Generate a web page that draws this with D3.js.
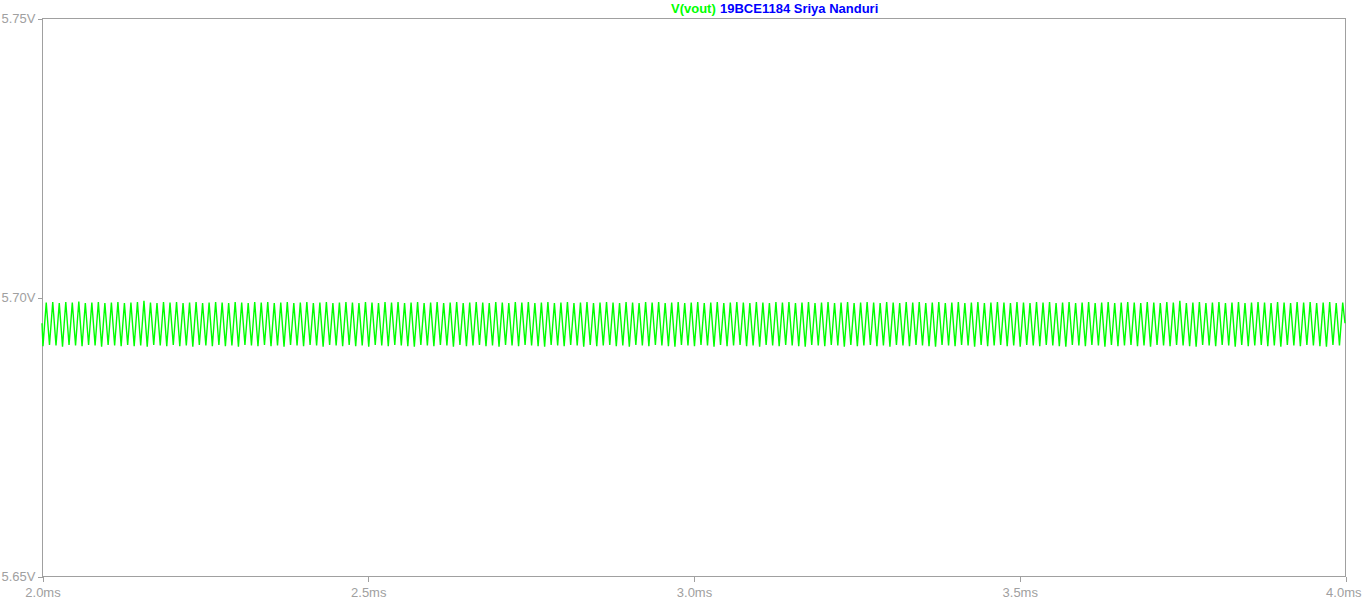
<!DOCTYPE html>
<html>
<head>
<meta charset="utf-8">
<script src="https://cdn.jsdelivr.net/npm/d3@7"></script>
<style>
  html, body { margin: 0; padding: 0; background: #ffffff; }
  svg { display: block; }
</style>
</head>
<body>
<svg id="chart" width="1362" height="602"></svg>
<script>
// ---- data ----
const xTicks = [2.0, 2.5, 3.0, 3.5, 4.0];          // ms
const xTickLabels = ["2.0ms", "2.5ms", "3.0ms", "3.5ms", "4.0ms"];
const yTicks = [5.65, 5.70, 5.75];                  // V
const yTickLabels = ["5.65V", "5.70V", "5.75V"];
const traceName = "V(vout)";
const titleText = "19BCE1184 Sriya Nanduri";

// ripple: 100 kHz (10 us period), first trough at 2.0015 ms
const startTime = 2.0, endTime = 4.0;
const startV = 5.6953, endV = 5.6953;
const firstTrough = 2.0015;   // ms
const period = 0.01;          // ms
const troughs = [
  5.6912,5.6914,5.6913,5.6911,5.6914,5.6913,5.6912,5.6914,5.6913,5.6911,5.6914,5.6913,5.6912,5.6914,5.6912,5.6913,5.6911,5.6914,5.6913,5.6912,
  5.6914,5.6912,5.6913,5.6911,5.6914,5.6913,5.6912,5.6914,5.6912,5.6913,5.6911,5.6914,5.6913,5.6912,5.6914,5.6912,5.6913,5.6911,5.6914,5.6913,
  5.6912,5.6914,5.6913,5.6911,5.6914,5.6913,5.6912,5.6914,5.6912,5.6913,5.6911,5.6914,5.6913,5.6912,5.6914,5.6913,5.6912,5.6911,5.6914,5.6913,
  5.6912,5.6914,5.6913,5.6911,5.6914,5.6912,5.6913,5.6914,5.6912,5.6913,5.6911,5.6914,5.6913,5.6912,5.6914,5.6913,5.6912,5.6911,5.6914,5.6913,
  5.6912,5.6914,5.6913,5.6911,5.6914,5.6912,5.6913,5.6914,5.6912,5.6913,5.6911,5.6914,5.6913,5.6912,5.6914,5.6913,5.6912,5.6911,5.6914,5.6913,
  5.6912,5.6914,5.6913,5.6911,5.6914,5.6912,5.6913,5.6914,5.6912,5.6913,5.6911,5.6914,5.6913,5.6912,5.6914,5.6913,5.6912,5.6911,5.6914,5.6913,
  5.6912,5.6914,5.6913,5.6911,5.6914,5.6912,5.6913,5.6914,5.6912,5.6913,5.6911,5.6914,5.6913,5.6912,5.6914,5.6913,5.6912,5.6911,5.6914,5.6913,
  5.6912,5.6914,5.6913,5.6911,5.6914,5.6912,5.6913,5.6914,5.6912,5.6913,5.6911,5.6914,5.6913,5.6912,5.6914,5.6913,5.6912,5.6911,5.6914,5.6913,
  5.6912,5.6914,5.6913,5.6911,5.6914,5.6912,5.6913,5.6914,5.6912,5.6913,5.6911,5.6914,5.6913,5.6912,5.6914,5.6913,5.6912,5.6911,5.6914,5.6913,
  5.6912,5.6914,5.6913,5.6911,5.6914,5.6912,5.6913,5.6914,5.6912,5.6913,5.6911,5.6914,5.6913,5.6912,5.6914,5.6913,5.6912,5.6911,5.6914,5.6913
];
const peaks = [
  5.6990,5.6991,5.6989,5.6991,5.6990,5.6992,5.6989,5.6990,5.6991,5.6989,5.6990,5.6991,5.6989,5.6990,5.6991,5.6993,5.6990,5.6989,5.6991,5.6990,
  5.6991,5.6989,5.6990,5.6991,5.6989,5.6990,5.6991,5.6990,5.6989,5.6991,5.6990,5.6989,5.6991,5.6990,5.6991,5.6989,5.6990,5.6991,5.6989,5.6990,
  5.6991,5.6989,5.6990,5.6991,5.6989,5.6990,5.6991,5.6990,5.6989,5.6991,5.6990,5.6989,5.6991,5.6990,5.6991,5.6989,5.6990,5.6991,5.6989,5.6990,
  5.6991,5.6989,5.6990,5.6991,5.6989,5.6990,5.6991,5.6990,5.6989,5.6991,5.6990,5.6989,5.6991,5.6990,5.6991,5.6989,5.6990,5.6991,5.6989,5.6990,
  5.6991,5.6989,5.6990,5.6991,5.6989,5.6990,5.6991,5.6990,5.6989,5.6991,5.6990,5.6989,5.6991,5.6990,5.6991,5.6989,5.6990,5.6991,5.6989,5.6990,
  5.6991,5.6989,5.6990,5.6991,5.6989,5.6990,5.6991,5.6990,5.6989,5.6991,5.6990,5.6989,5.6991,5.6990,5.6991,5.6989,5.6990,5.6991,5.6989,5.6990,
  5.6991,5.6989,5.6990,5.6991,5.6989,5.6990,5.6991,5.6990,5.6989,5.6991,5.6990,5.6989,5.6991,5.6990,5.6991,5.6989,5.6990,5.6991,5.6989,5.6990,
  5.6991,5.6989,5.6990,5.6991,5.6989,5.6990,5.6991,5.6990,5.6989,5.6991,5.6990,5.6989,5.6991,5.6990,5.6991,5.6989,5.6990,5.6991,5.6989,5.6990,
  5.6991,5.6989,5.6990,5.6991,5.6989,5.6990,5.6991,5.6990,5.6989,5.6991,5.6990,5.6989,5.6991,5.6990,5.6993,5.6989,5.6990,5.6991,5.6989,5.6990,
  5.6991,5.6989,5.6990,5.6991,5.6989,5.6990,5.6991,5.6990,5.6989,5.6991,5.6990,5.6989,5.6991,5.6990,5.6991,5.6989,5.6990,5.6991,5.6989,5.6990
];

// ---- layout ----
const margin = { left: 42, right: 17, top: 18, bottom: 26 };
const W = 1362, H = 602;
const svg = d3.select("#chart");
const gray = "#a0a0a0";
const font = "Arial, 'Liberation Sans', sans-serif";

const x = d3.scaleLinear().domain([2.0, 4.0]).range([margin.left, W - margin.right]);
const y = d3.scaleLinear().domain([5.65, 5.75]).range([H - margin.bottom, margin.top]);

// build series points from read values
const pts = [[startTime, startV]];
for (let k = 0; k < troughs.length; k++) {
  pts.push([firstTrough + k * period, troughs[k]]);
  pts.push([firstTrough + k * period + period / 2, peaks[k]]);
}
pts.push([endTime, endV]);

// frame
svg.append("rect")
  .attr("x", x(2.0) + 0.5).attr("y", y(5.75) + 0.5)
  .attr("width", x(4.0) - x(2.0)).attr("height", y(5.65) - y(5.75))
  .attr("fill", "none").attr("stroke", gray).attr("stroke-width", 1)
  .attr("shape-rendering", "crispEdges");

// axes
const yAxis = d3.axisLeft(y).tickValues(yTicks).tickSize(5).tickPadding(2)
  .tickFormat((d, i) => yTickLabels[i]);
const gy = svg.append("g").attr("transform", `translate(${x(2.0) + 0.5},0.5)`).call(yAxis);
const xAxis = d3.axisBottom(x).tickValues(xTicks).tickSize(5).tickPadding(6)
  .tickFormat((d, i) => xTickLabels[i]);
const gx = svg.append("g").attr("transform", `translate(0.5,${y(5.65) + 0.5})`).call(xAxis);
[gx, gy].forEach(g => {
  g.select(".domain").remove();
  g.selectAll("line").attr("stroke", gray).attr("shape-rendering", "crispEdges");
  g.selectAll("text").attr("fill", gray)
    .style("font-family", font).style("font-size", "13px");
});
// keep the last x label inside the page (as in the reference)
gx.selectAll(".tick").filter(d => d === 4.0).select("text")
  .attr("text-anchor", "end").attr("x", W - 1 - x(4.0) - 0.5);

// trace
svg.append("path")
  .datum(pts)
  .attr("fill", "none")
  .attr("stroke", "#00ff00")
  .attr("stroke-width", 1.4)
  .attr("d", d3.line().x(d => x(d[0])).y(d => y(d[1])));

// title
const title = svg.append("text").attr("y", 13)
  .style("font-family", font)
  .style("font-size", "13px").style("font-weight", "bold");
title.append("tspan").attr("x", 671).attr("fill", "#00ff00").text(traceName);
title.append("tspan").attr("x", 720).attr("fill", "#0000ff").text(titleText);
</script>
</body>
</html>
